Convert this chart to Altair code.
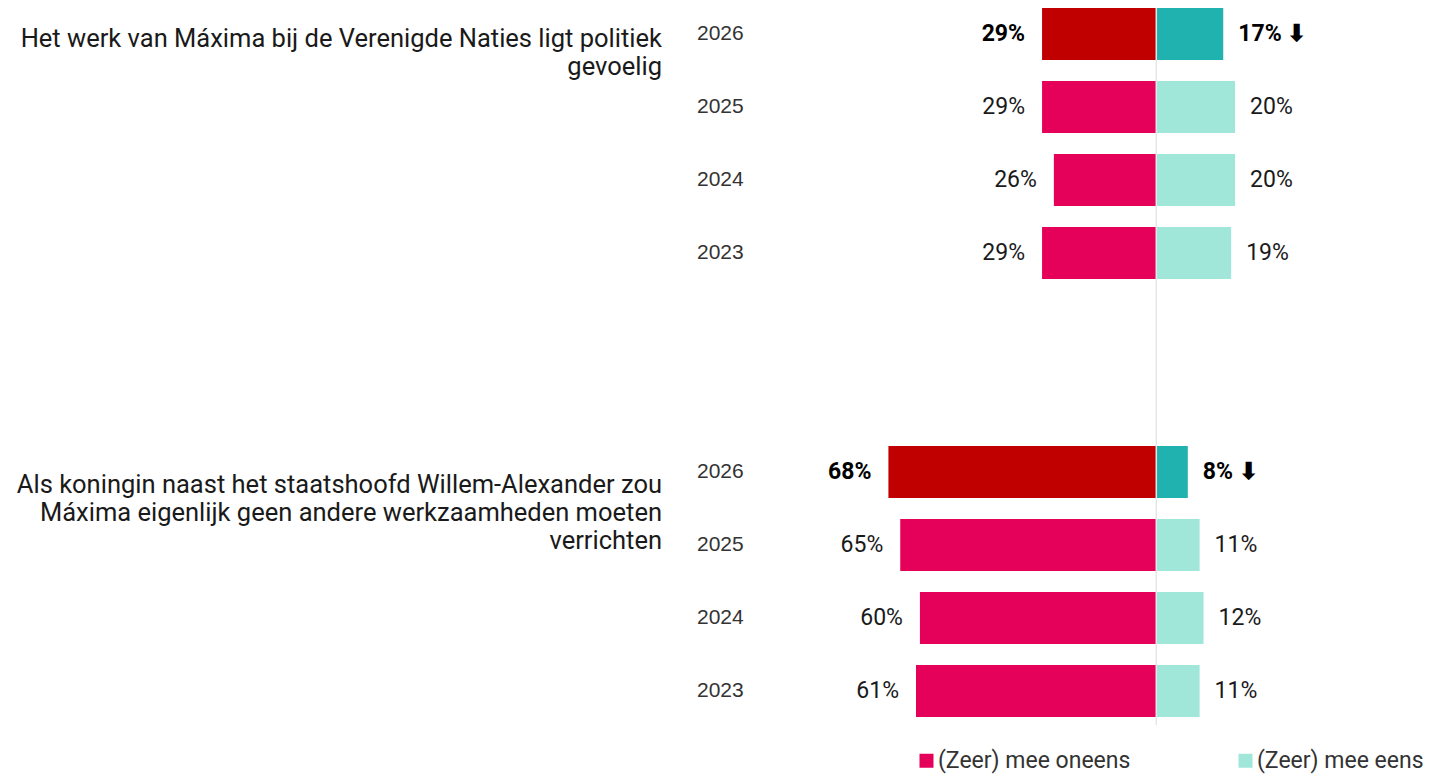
import altair as alt
import pandas as pd

years = ["2026", "2025", "2024", "2023"]
questions = [
    "Het werk van Máxima bij de Verenigde Naties ligt politiek\ngevoelig",
    "Als koningin naast het staatshoofd Willem-Alexander zou\nMáxima eigenlijk geen andere werkzaamheden moeten\nverrichten",
]
q1_oneens = [29, 29, 26, 29]
q1_eens = [17, 20, 20, 19]
q2_oneens = [68, 65, 60, 61]
q2_eens = [8, 11, 12, 11]

series_names = ["(Zeer) mee oneens", "(Zeer) mee eens"]
cat_domain = ["(Zeer) mee oneens", "(Zeer) mee eens", "oneens 2026", "eens 2026"]
cat_colors = ["#E5005A", "#A0E6D9", "#C00000", "#20B2AE"]

rows = []
row_domain = []
for qi, (on, ee) in enumerate([(q1_oneens, q1_eens), (q2_oneens, q2_eens)]):
    if qi == 1:
        row_domain += ["gap1", "gap2"]
    for y, a, b in zip(years, on, ee):
        key = f"Q{qi+1}-{y}"
        row_domain.append(key)
        latest = "yes" if y == "2026" else "no"
        rows.append(dict(row=key, year=y, side="left", value=-a,
                         cat="oneens 2026" if y == "2026" else series_names[0],
                         label=f"{a}%", latest=latest))
        rows.append(dict(row=key, year=y, side="right", value=b,
                         cat="eens 2026" if y == "2026" else series_names[1],
                         label=f"{b}% ⬇" if y == "2026" else f"{b}%", latest=latest))
df = pd.DataFrame(rows)

qdf = pd.DataFrame({"row": ["Q1-2026", "Q2-2026"], "text": questions})
zdf = pd.DataFrame({"zero": [0]})

FONT = "Roboto"
TXT = "#1a1a1a"
XDOM = [-291.5, 70.5]

x_enc = alt.X("value:Q", scale=alt.Scale(domain=XDOM, nice=False, zero=False), axis=None)
y_enc = alt.Y("row:N", scale=alt.Scale(domain=row_domain, paddingInner=0.2877, paddingOuter=0), axis=None)

base = alt.Chart(df)

bars = base.mark_bar().encode(
    x=x_enc, y=y_enc,
    color=alt.Color("cat:N", scale=alt.Scale(domain=cat_domain, range=cat_colors),
                    legend=alt.Legend(values=series_names, orient="none", legendX=907, legendY=741,
                                      direction="horizontal", title=None, symbolType="square",
                                      symbolSize=196, symbolStrokeWidth=0, symbolOpacity=1,
                                      labelFontSize=23, labelFont=FONT, labelColor="#333333",
                                      columnPadding=103, labelOffset=0,
                                      labelLimit=400)),
)

center = alt.Chart(zdf).mark_rule(color="#e6e6e6", strokeWidth=1.5).encode(
    x=alt.X("zero:Q", scale=alt.Scale(domain=XDOM, nice=False, zero=False), axis=None),
    y=alt.value(-8), y2=alt.value(717),
)

def lab(side, bold):
    flt = (alt.datum.side == side) & (alt.datum.latest == ("yes" if bold else "no"))
    return base.transform_filter(flt).mark_text(
        align="right" if side == "left" else "left",
        dx=-17 if side == "left" else 15,
        baseline="middle", font=FONT, fontSize=23,
        fontWeight="bold" if bold else "normal", color=TXT if not bold else "#000000",
    ).encode(x=x_enc, y=y_enc, text="label:N")

labels = [lab(s, b) for s in ("left", "right") for b in (False, True)]

year_lab = base.transform_filter(alt.datum.side == "left").mark_text(
    align="left", baseline="middle", font="Liberation Sans", fontSize=21, color="#333333",
).encode(x=alt.value(689), y=y_enc, text="year:N")

def qlab(key, dy):
    return alt.Chart(qdf).transform_filter(alt.datum.row == key).mark_text(
        align="right", baseline="alphabetic", font=FONT, fontSize=25.5,
        color=TXT, lineBreak="\n", lineHeight=28, dy=dy,
    ).encode(x=alt.value(654), y=y_enc, text="text:N")

chart = alt.layer(bars, center, *labels, year_lab, qlab("Q1-2026", 13), qlab("Q2-2026", 21)).properties(
    width=1426, height=709,
    autosize=alt.AutoSizeParams(type="none"),
    padding={"left": 0, "top": 0, "right": 0, "bottom": 59},
    background="white",
).configure_view(stroke=None)

chart.save("out.html", embed_options={"renderer": "svg", "actions": False})
